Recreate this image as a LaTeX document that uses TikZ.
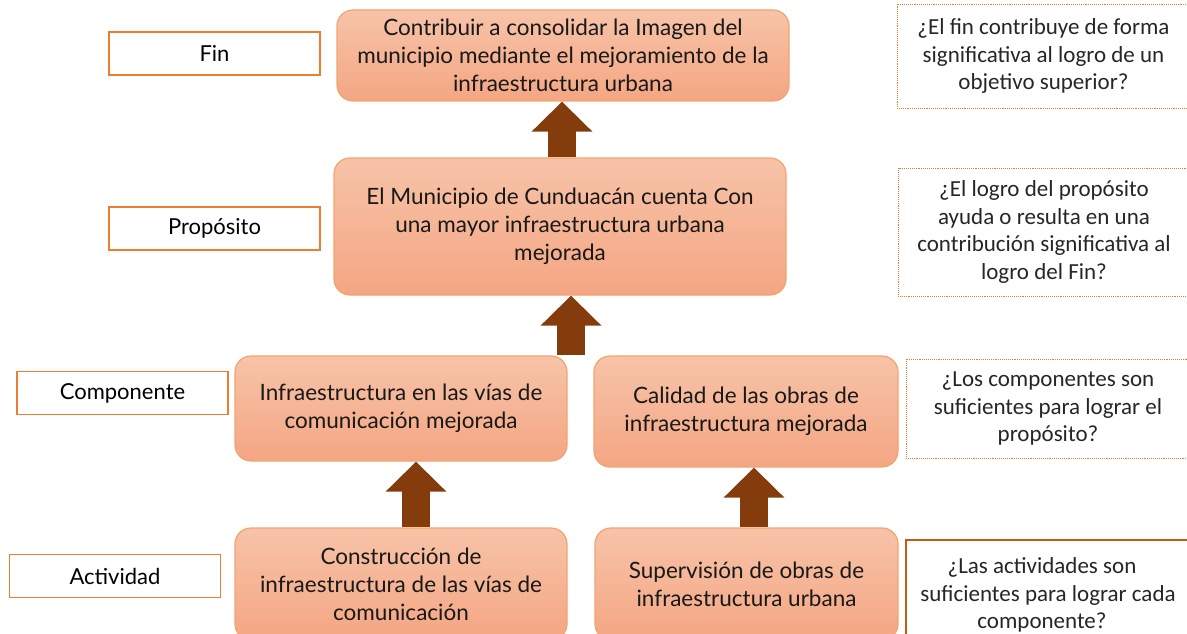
\documentclass[tikz,border=0pt]{standalone}
\usepackage{fontspec}
\setmainfont{Lato}
\newfontfamily\askfont{Carlito}
\usepackage{tikz}
\usetikzlibrary{arrows.meta,shapes}
\definecolor{boxtop}{HTML}{F7C3A8}
\definecolor{boxbot}{HTML}{F4A683}
\definecolor{boxline}{HTML}{F4A36E}
\definecolor{tagline}{HTML}{ED7D31}
\definecolor{askline}{HTML}{C55A11}
\definecolor{uparrow}{HTML}{843C0C}

\begin{document}
\begin{tikzpicture}[x=1pt, y=-1pt,
main box/.style={rectangle, rounded corners=16pt, draw=boxline, line width=1.2pt, top color=boxtop, bottom color=boxbot, align=center, font=\fontsize{22.5}{28}\selectfont, text=black!90},
tag box/.style={rectangle, draw=tagline, line width=1.8pt, fill=white, minimum width=211pt, minimum height=43pt, font=\fontsize{22}{24}\selectfont},
ask box/.style={rectangle, draw=tagline, densely dotted, line width=0.9pt, align=center, font=\askfont\fontsize{23}{27.5}\selectfont, text=black!85},
up arrow/.style={draw=uparrow, line width=28pt, -{Triangle[width=59pt,length=30pt]}}]
\useasboundingbox (0,0) rectangle (1187,634);
\clip (0,0) rectangle (1187,634);
% levels on the left
\node[tag box] (tfin) at (214.5,53.5) {Fin};
\node[tag box] (tpro) at (214.5,228.5) {Propósito};
\node[tag box] (tcom) at (122.5,393) {Componente};
\node[tag box] (tact) at (115,576) {Actividad};
% the matrix
\node[main box, minimum width=452pt, minimum height=91pt] (fin) at (563,55.5) {Contribuir a consolidar la Imagen del\\municipio mediante el mejoramiento de la\\infraestructura urbana};
\node[main box, minimum width=452pt, minimum height=137pt] (pro) at (560,226.5) {El Municipio de Cunduacán cuenta Con\\una mayor infraestructura urbana\\mejorada};
\node[main box, minimum width=332pt, minimum height=105pt] (com1) at (401,408.5) {Infraestructura en las vías de\\comunicación mejorada};
\node[main box, minimum width=304pt, minimum height=111pt] (com2) at (746,411.5) {Calidad de las obras de\\infraestructura mejorada};
\node[main box, minimum width=332pt, minimum height=112pt] (act1) at (401,584) {Construcción de\\infraestructura de las vías de\\comunicación};
\node[main box, minimum width=303pt, minimum height=112pt] (act2) at (746.5,584) {Supervisión de obras de\\infraestructura urbana};
% questions on the right
\node[ask box, minimum width=293pt, minimum height=104pt] (qfin) at (1043.5,56) {¿El fin contribuye de forma\\significativa al logro de un\\objetivo superior?};
\node[ask box, minimum width=292pt, minimum height=128pt] (qpro) at (1044,232) {¿El logro del propósito\\ayuda o resulta en una\\contribución significativa al\\logro del Fin?};
\node[ask box, minimum width=284pt, minimum height=99pt] (qcom) at (1048,408.5) {¿Los componentes son\\suficientes para lograr el\\propósito?};
\node[ask box, solid, draw=askline, line width=1.6pt, minimum width=284pt, minimum height=110pt] (qact) at (1048,595) {¿Las actividades son\hspace*{12pt}\\suficientes para lograr cada\hspace*{12pt}\\componente?\hspace*{12pt}};
% arrows between the levels
\draw[up arrow] (pro.north -| 562,0) -- (fin.south -| 562,0);
\draw[up arrow] (com1.north -| 571,0) -- (pro.south -| 571,0);
\draw[up arrow] (act1.north -| 416,0) -- (com1.south -| 416,0);
\draw[up arrow] (act2.north -| 754,0) -- (com2.south -| 754,0);
\end{tikzpicture}
\end{document}
